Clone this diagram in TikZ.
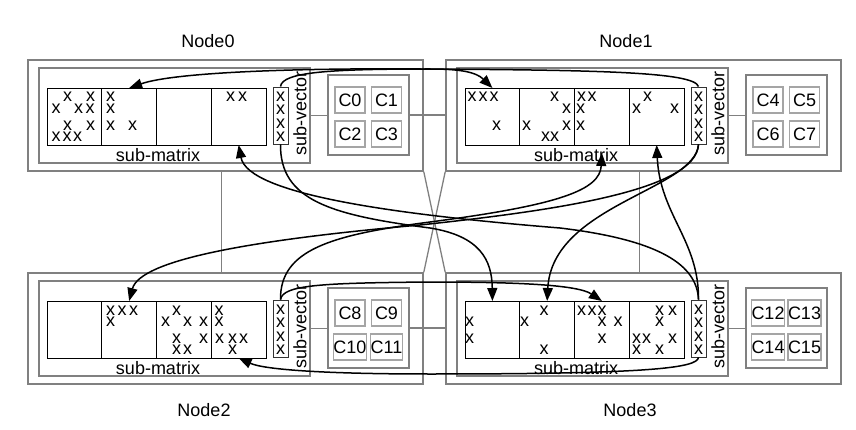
\documentclass[tikz,border=0pt]{standalone}
\usepackage{fontspec}
\setmainfont{Liberation Sans}
\usetikzlibrary{arrows.meta, positioning}
\definecolor{framegray}{RGB}{128,128,128}
\definecolor{cellgray}{RGB}{165,165,165}
\tikzset{
    frame/.style={draw=framegray, line width=1.6pt, inner sep=0pt},
    core/.style={draw=cellgray, line width=1.2pt, inner sep=0pt, minimum width=30pt, minimum height=26pt},
    blk/.style={draw, line width=.9pt, inner sep=0pt, outer sep=0pt, minimum width=54.75pt, minimum height=57pt},
    xs/.style={inner sep=0pt},
    link/.style={framegray, line width=1.3pt},
    flow/.style={line width=1.5pt, -{Triangle[length=13pt, width=10pt]}},
}
\newcommand*{\clusterbox}[4]{% name, shift x, shift y, first core
    \begin{scope}[shift={(#2, #3)}]
        \node[frame, minimum width=395pt, minimum height=111pt](#1)at(225.5, 115.5){};
        \node[frame, minimum width=271pt, minimum height=95pt](#1in)at(174.5, 115.5){};
        \node[frame, minimum width=81pt, minimum height=80pt](#1c)at(368.5, 115){};
        \draw[link](#1in.east)--(#1in.east -| #1c.west);
        \node[blk](#1b1)at(74.4, 116.5){};
        \node[blk, right=0pt of #1b1](#1b2){};
        \node[blk, right=0pt of #1b2](#1b3){};
        \node[blk, right=0pt of #1b3](#1b4){};
        \node[draw=black!80, line width=.9pt, inner sep=0pt, minimum width=15pt, minimum height=57pt](#1sv)at(280.5, 115.5){};
        \path[every node/.style=xs](280.5, 97)node(#1v1){x}(280.5, 110)node(#1v2){x}(280.5, 123.5)node(#1v3){x}(280.5, 137)node(#1v4){x};
        \node[xs](#1sm)at(158, 155){sub-matrix};
        \node[xs, rotate=90](#1sl)at(300, 113.5){sub-vector};
        \node[core](#1c1)at(350, 100){C\the\numexpr#4\relax};
        \node[core](#1c2)at(386.5, 100){C\the\numexpr#4+1\relax};
        \node[core](#1c3)at(350, 134){C\the\numexpr#4+2\relax};
        \node[core](#1c4)at(386.5, 134){C\the\numexpr#4+3\relax};
    \end{scope}}

\begin{document}
\begin{tikzpicture}[x=1pt, y=-1pt, font=\fontsize{18}{21}\selectfont]
    \useasboundingbox(0, 0)rectangle(856, 430);
    \clusterbox{n0}{0}{0}{0}
    \clusterbox{n1}{418}{0}{4}
    \clusterbox{n2}{0}{213}{8}
    \clusterbox{n3}{418}{213}{12}
    \node(l0)at(208, 41){Node0};
    \node(l1)at(626, 41){Node1};
    \node(l2)at(204, 410){Node2};
    \node(l3)at(630, 410){Node3};
    % network
    \draw[link](n0c.east)--(n0c.east -| n1.west);
    \draw[link](n2c.east)--(n2c.east -| n3.west);
    \draw[link]([xshift=-4pt]n0.south)--([xshift=-4pt]n2.north);
    \draw[link]([xshift=-4pt]n1.south)--([xshift=-4pt]n3.north);
    \draw[link](n0.south east)--(n3.north west);
    \draw[link](n1.south west)--(n2.north east);
    % nonzeros, rows 1-4
    \path[every node/.style=xs](67.5, 97)node(p0a){x}(90.5, 97)node(p0b){x}(110.5, 97)node(p0c){x}(230.5, 97)node(p0d){x}(242.5, 97)node(p0e){x}
        (56, 109)node(p0f){x}(78.5, 109)node(p0g){x}(90, 109)node(p0h){x}(110.5, 109)node(p0i){x}
        (67.5, 125.5)node(p0j){x}(90.5, 125.5)node(p0k){x}(110.5, 125.5)node(p0l){x}(132.5, 125.5)node(p0m){x}
        (56, 136.5)node(p0n){x}(67, 136.5)node(p0o){x}(77.5, 136.5)node(p0p){x};
    % rows 5-8
    \path[every node/.style=xs](472, 97)node(p1a){x}(483, 97)node(p1b){x}(494, 97)node(p1c){x}(554.5, 97)node(p1d){x}(581.5, 97)node(p1e){x}(592, 97)node(p1f){x}(647.5, 97)node(p1g){x}
        (566.5, 109)node(p1h){x}(580.5, 109)node(p1i){x}(636.5, 109)node(p1j){x}(674.5, 109)node(p1k){x}
        (496.5, 125.5)node(p1l){x}(526.5, 125.5)node(p1m){x}(566.5, 125.5)node(p1n){x}(580.5, 125.5)node(p1o){x}
        (545.5, 136.5)node(p1p){x}(554.5, 136.5)node(p1q){x};
    % rows 9-12
    \path[every node/.style=xs](110.5, 310.5)node(p2a){x}(122, 310.5)node(p2b){x}(133.5, 310.5)node(p2c){x}(176.5, 310.5)node(p2d){x}(219, 310.5)node(p2e){x}
        (110.5, 321.5)node(p2f){x}(165.5, 321.5)node(p2g){x}(187.5, 321.5)node(p2h){x}(203.5, 321.5)node(p2i){x}(219, 321.5)node(p2j){x}
        (176.5, 338.5)node(p2k){x}(203.5, 338.5)node(p2l){x}(219.5, 338.5)node(p2m){x}(232.5, 338.5)node(p2n){x}(243.5, 338.5)node(p2o){x}
        (176.5, 349.5)node(p2p){x}(187.5, 349.5)node(p2q){x}(232.5, 349.5)node(p2r){x};
    % rows 13-16
    \path[every node/.style=xs](544, 310.5)node(p3a){x}(581.5, 310.5)node(p3b){x}(592, 310.5)node(p3c){x}(602, 310.5)node(p3d){x}(659.5, 310.5)node(p3e){x}(672.5, 310.5)node(p3f){x}
        (469.5, 321.5)node(p3g){x}(524.5, 321.5)node(p3h){x}(602, 321.5)node(p3i){x}(618, 321.5)node(p3j){x}(659.5, 321.5)node(p3k){x}
        (469.5, 338.5)node(p3l){x}(602, 338.5)node(p3m){x}(636.5, 338.5)node(p3n){x}(646.5, 338.5)node(p3o){x}(672.5, 338.5)node(p3p){x}
        (544, 349.5)node(p3q){x}(636.5, 349.5)node(p3r){x}(659.5, 349.5)node(p3s){x};
    % sub-vector exchange
    \draw[flow](n1sv.north)..controls(694, 72)and(600, 70)..(420, 69)..controls(300, 68)and(175, 72)..(n0b2.north);
    \draw[flow](n0sv.north)..controls(282, 72)and(330, 69)..(430, 69)..controls(460, 69)and(476, 72)..(n1b1.north);
    \draw[flow](n0sv.south)..controls(280, 200)and(330, 215)..(430, 228)..controls(480, 236)and(492, 260)..(n3b1.north);
    \draw[flow](n1sv.south)..controls(696, 190)and(560, 210)..(420, 225)..controls(250, 240)and(140, 260)..(n2b2.north);
    \draw[flow](n1sv.south)..controls(695, 190)and(552, 205)..(n3b2.north);
    \draw[flow](n2sv.north)..controls(280, 250)and(330, 235)..(430, 222)..controls(560, 205)and(600, 190)..([yshift=-8pt]n1b3.south);
    \draw[flow](n2sv.north)..controls(283, 285)and(320, 283)..(430, 282)..controls(520, 282)and(578, 285)..(n3b3.north);
    \draw[flow](n3sv.north)..controls(699, 240)and(660, 215)..(n1b4.south);
    \draw[flow](n3sv.north)..controls(697, 265)and(660, 240)..(560, 228)..controls(400, 215)and(248, 195)..(n0b4.south);
    \draw[flow](n3sv.south)..controls(697, 368)and(650, 374)..(430, 374)..controls(330, 374)and(265, 370)..(n2b4.south); % under sub-matrix
\end{tikzpicture}
\end{document}
